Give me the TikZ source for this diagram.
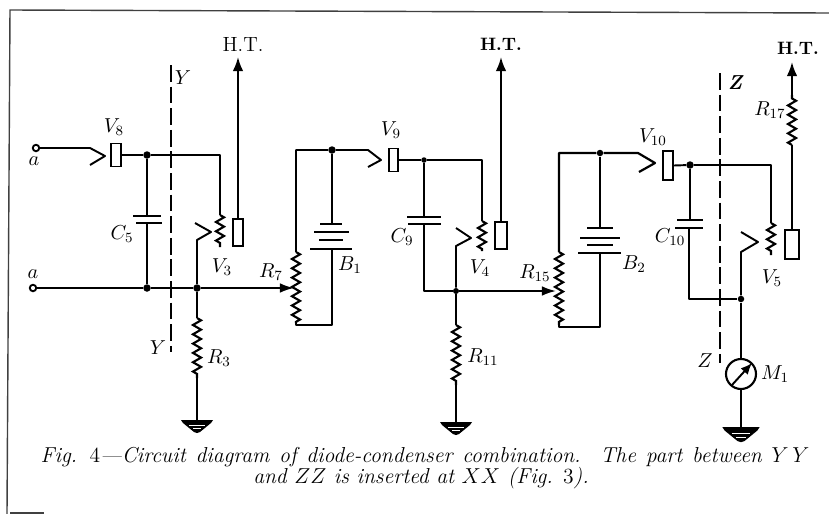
\RequirePackage{fix-cm}
\documentclass[tikz,border=0pt]{standalone}
\usetikzlibrary{decorations.pathmorphing,arrows.meta}
\tikzset{
  wire/.style={line width=1.1pt,line join=round},
  framel/.style={line width=0.8pt,black!75},
  dashln/.style={line width=1.2pt,dash pattern=on 9.5pt off 2.8pt},
  res/.style={line width=1.2pt,decorate,decoration={zigzag,segment length=5.3pt,amplitude=2.3pt}},
  plate/.style={line width=1.2pt},
  tube/.style={draw,line width=1.05pt,fill=white,minimum width=0.2cm,inner sep=0pt},
  jdot/.style={circle,fill=black,inner sep=0pt,minimum size=0.15cm},
  term/.style={circle,draw,line width=1.05pt,fill=white,inner sep=0pt,minimum size=0.13cm},
  lab/.style={inner sep=0pt,font=\fontsize{11.5}{13}\selectfont},
  htl/.style={inner sep=0pt,font=\fontsize{11.7}{13}\selectfont},
  htb/.style={inner sep=0pt,font=\fontsize{10.2}{12}\selectfont\bfseries},
  capt/.style={inner sep=0pt,align=center,font=\fontsize{12.3}{15}\selectfont\itshape},
  ht/.style={wire,-{Latex[length=8pt,width=6pt]}},
  wiper/.style={wire,-{Latex[length=8pt,width=5.5pt]}},
  gndsym/.pic={
    \fill (-16,0) -- (16,0) -- (14,3) -- (3,12) -- (0,13) -- (-3,12) -- (-14,3) -- cycle;
    \draw[white,line width=0.35pt] (-8,5) -- (8,5) (-4,8.5) -- (4,8.5);
  }
}
\begin{document}
\begin{tikzpicture}[x=0.02cm,y=-0.02cm]
\useasboundingbox (0,0) rectangle (829,514);
% frame
\coordinate (f1) at (10,10); \coordinate (f2) at (829,13); \coordinate (f3) at (7,514);
\coordinate (f4) at (10,513); \coordinate (f5) at (44,513);
\draw[framel] (f2) -- (f1) -- (f3);
\draw[framel,line width=1pt] (f4) -- (f5);
% section dashes
\coordinate (y1) at (171,65); \coordinate (y2) at (171,352);
\coordinate (z1) at (720,73); \coordinate (z2) at (720,363);
\draw[dashln] (y1) -- (y2);
\draw[dashln] (z1) -- (z2);
% ---------- stage 1
\node[term] (a1) at (36,148) {};
\node[term] (a2) at (33,288) {};
\node[tube,minimum height=0.46cm] (V8) at (116,155) {};
\node[jdot] (j1) at (147,155) {};
\node[jdot] (j2) at (147,288) {};
\node[jdot] (j3) at (197,288) {};
\coordinate (c1a) at (147,216); \coordinate (c1b) at (147,223);
\coordinate (c1al) at (133,216); \coordinate (c1ar) at (161,216);
\coordinate (c1bl) at (136,223); \coordinate (c1br) at (162,223);
\coordinate (h1) at (90,148); \coordinate (h2) at (105,156); \coordinate (h3) at (90,165);
\draw[wire] (a1) -- (h1) -- (h2) -- (h3);
\draw[wire] (V8.east) -- (j1) -- (220,155) coordinate (r1c) -- (220,215) coordinate (rv3t);
\coordinate (rv3b) at (220,247);
\draw[res] (rv3t) -- (rv3b);
\draw[wire] (j1) -- (c1a); \draw[wire] (c1b) -- (j2);
\draw[plate] (c1al) -- (c1ar); \draw[plate] (c1bl) -- (c1br);
\coordinate (w7) at (294,288);
\draw[wire] (a2) -- (j2) -- (j3);
\draw[wiper] (j3) -- (w7);
\coordinate (k1) at (197,240); \coordinate (k2) at (211,232); \coordinate (k3) at (195,223);
\draw[wire] (j3) -- (k1) -- (k2) -- (k3);
\node[tube,minimum height=0.54cm,minimum width=0.2cm] (V3) at (238,232.5) {};
\coordinate (ht1) at (238,57);
\draw[ht] (V3.north) -- (ht1);
\coordinate (r3t) at (197,318); \coordinate (r3b) at (197,378);
\draw[wire] (j3) -- (r3t); \draw[res] (r3t) -- (r3b);
\coordinate (g1) at (197,420);
\draw[wire] (r3b) -- (g1);
\pic at (g1) {gndsym};
% ---------- R7 / B1
\coordinate (r7t) at (296,252); \coordinate (r7b) at (296,323);
\coordinate (t7) at (296,150); \coordinate (b7) at (296,325);
\node[jdot] (j4) at (332,150) {};
\coordinate (h4) at (368,150); \coordinate (h5) at (381,160); \coordinate (h6) at (368,167);
\draw[wire] (r7t) -- (t7) -- (j4) -- (h4) -- (h5) -- (h6);
\draw[res] (r7t) -- (r7b);
\coordinate (b1a) at (332,224); \coordinate (b1d) at (332,249); \coordinate (b7r) at (332,325);
\draw[wire] (j4) -- (b1a);
\draw[wire] (r7b) -- (b7) -- (b7r) -- (b1d);
\draw[plate] (320,224) coordinate (p1) -- (342,224) coordinate (p2);
\draw[plate,line width=1.4pt] (314,232) coordinate (p3) -- (349,232) coordinate (p4);
\draw[plate] (319,240) coordinate (p5) -- (343,240) coordinate (p6);
\draw[plate,line width=1.4pt] (310,249) coordinate (p7) -- (352,249) coordinate (p8);
% ---------- stage 2
\node[tube,minimum height=0.46cm,minimum width=0.18cm] (V9) at (393.5,160) {};
\node[jdot,minimum size=0.11cm] (j5) at (424,160) {};
\draw[wire] (V9.east) -- (j5) -- (482,160) coordinate (cr2) -- (482,221) coordinate (rv4t);
\coordinate (rv4b) at (482,251);
\draw[res] (rv4t) -- (rv4b);
\coordinate (c2a) at (424,217); \coordinate (c2b) at (424,224);
\draw[wire] (j5) -- (c2a);
\draw[plate] (407,217) coordinate (p9) -- (441,217) coordinate (p10);
\draw[plate] (408,224) coordinate (p11) -- (441,224) coordinate (p12);
\node[jdot,minimum size=0.12cm] (j6) at (456,291) {};
\coordinate (c2c) at (424,291);
\draw[wire] (c2b) -- (c2c) -- (j6);
\coordinate (w15) at (556,291);
\draw[wiper] (j6) -- (w15);
\coordinate (k4) at (456,246); \coordinate (k5) at (471,238); \coordinate (k6) at (456,228);
\draw[wire] (j6) -- (k4) -- (k5) -- (k6);
\node[tube,minimum height=0.54cm,minimum width=0.24cm] (V4) at (501,235.5) {};
\coordinate (ht2) at (501,57);
\draw[ht] (V4.north) -- (ht2);
\coordinate (r11t) at (456,325); \coordinate (r11b) at (456,385);
\draw[wire] (j6) -- (r11t); \draw[res] (r11t) -- (r11b);
\coordinate (g2) at (456,422);
\draw[wire] (r11b) -- (g2);
\pic at (g2) {gndsym};
% ---------- R15 / B2
\coordinate (r15t) at (559,252); \coordinate (r15b) at (559,325);
\coordinate (t15) at (559,153); \coordinate (b15) at (559,327);
\node[jdot,minimum size=0.13cm] (j7) at (600,153) {};
\coordinate (h7) at (638,153); \coordinate (h8) at (655,163); \coordinate (h9) at (639,172);
\draw[wire,line width=1.25pt] (r15t) -- (t15) -- (j7) -- (h7) -- (h8) -- (h9);
\draw[res] (r15t) -- (r15b);
\coordinate (b2a) at (600,228); \coordinate (b2d) at (600,253); \coordinate (b15r) at (600,327);
\draw[wire] (j7) -- (b2a);
\draw[wire,line width=1.25pt] (r15b) -- (b15) -- (b15r) -- (b2d);
\draw[plate] (587,228) coordinate (p13) -- (613,228) coordinate (p14);
\draw[plate,line width=1.4pt] (580,238) coordinate (p15) -- (620,238) coordinate (p16);
\draw[plate] (587,245) coordinate (p17) -- (613,245) coordinate (p18);
\draw[plate,line width=1.4pt] (578,253) coordinate (p19) -- (621,253) coordinate (p20);
% ---------- stage 3
\node[tube,minimum height=0.58cm,minimum width=0.2cm] (V10) at (668,165.5) {};
\node[jdot] (j8) at (690,165) {};
\draw[wire] (V10.east) -- (j8) -- (771,165) coordinate (cr3) -- (771,223) coordinate (rv5t);
\coordinate (rv5b) at (771,255);
\draw[res] (rv5t) -- (rv5b);
\coordinate (c3a) at (690,220); \coordinate (c3b) at (689,228);
\draw[wire] (j8) -- (c3a);
\draw[plate,line width=1.5pt] (677,220) coordinate (p21) -- (703,220) coordinate (p22);
\draw[plate] (675,228) coordinate (p23) -- (703,228) coordinate (p24);
\node[jdot,minimum size=0.13cm] (j9) at (741,299) {};
\coordinate (c3c) at (689,299);
\draw[wire] (c3b) -- (c3c) -- (j9);
\coordinate (k7) at (741,252); \coordinate (k8) at (758,242); \coordinate (k9) at (741,232);
\draw[wire] (j9) -- (k7) -- (k8) -- (k9);
\node[tube,minimum height=0.58cm,minimum width=0.27cm] (V5) at (792,244.5) {};
\coordinate (r17b) at (792,145); \coordinate (r17t) at (792,95); \coordinate (ht3) at (792,62);
\draw[wire] (V5.north) -- (r17b); \draw[res] (r17b) -- (r17t); \draw[ht] (r17t) -- (ht3);
\node[circle,draw,line width=1.2pt,minimum size=0.6cm,inner sep=0pt] (M1) at (741,374) {};
\draw[wire] (j9) -- (M1.north);
\coordinate (g3) at (741,427);
\draw[wire] (M1.south) -- (g3);
\pic[scale=1.17] at (g3) {gndsym};
\coordinate (ma) at (732,385); \coordinate (mb) at (752,363);
\draw[wire,-{Latex[length=6.5pt,width=5.5pt]}] (ma) -- (mb);
% ---------- labels
\node[htl] (lHT1) at (243,44) {H.T.};
\node[htb] (lHT2) at (501,44) {H.T.};
\node[htb] (lHT3) at (798,48) {H.T.};
\node[lab] (la1) at (34,161) {$a$};
\node[lab] (la2) at (33,274) {$a$};
\node[lab] (lY1) at (183,78) {$Y$};
\node[lab] (lY2) at (158,348) {$Y$};
\node[lab,font=\fontsize{11.5}{13}\selectfont\bfseries\itshape] (lZ1) at (735,83) {Z};
\node[lab] (lZ2) at (705,361) {$Z$};
\node[lab] (lV8) at (114,127) {$V_{8}$};
\node[lab] (lV9) at (391,130) {$V_{9}$};
\node[lab] (lV10) at (653,137) {$V_{10}$};
\node[lab] (lV3) at (222,267) {$V_{3}$};
\node[lab] (lV4) at (480,268) {$V_{4}$};
\node[lab] (lV5) at (772,278) {$V_{5}$};
\node[lab] (lC5) at (122,234) {$C_{5}$};
\node[lab] (lC9) at (402,237) {$C_{9}$};
\node[lab] (lC10) at (670,237) {$C_{10}$};
\node[lab] (lR7) at (271,272) {$R_{7}$};
\node[lab] (lR15) at (535,273) {$R_{15}$};
\node[lab] (lR3) at (219,358) {$R_{3}$};
\node[lab] (lR11) at (483,357) {$R_{11}$};
\node[lab] (lR17) at (770,110) {$R_{17}$};
\node[lab] (lB1) at (350,265) {$B_{1}$};
\node[lab] (lB2) at (634,264) {$B_{2}$};
\node[lab] (lM1) at (775,374) {$M_{1}$};
% caption
\node[capt] (cap1) at (425,457)
  {\spaceskip=5.6pt plus 1pt\relax Fig. {\upshape 4}---Circuit diagram of diode-condenser combination.\ \ The part between $Y\,Y$};
\node[capt] (cap2) at (421,478)
  {and $ZZ$ is inserted at $XX$ (Fig. {\upshape 3}).};
\end{tikzpicture}
\end{document}
